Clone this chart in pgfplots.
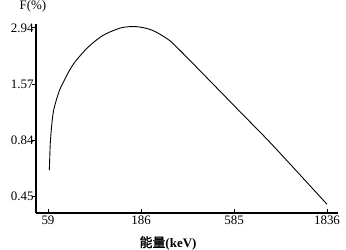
\documentclass[border=0pt]{standalone}
\usepackage{pgfplots}
\pgfplotsset{compat=1.18}
\usepackage{fontspec}
\setmainfont{Liberation Serif}
\newfontfamily\cjk[FakeBold=1.5]{Noto Sans CJK SC}
\begin{document}
\begin{tikzpicture}
\useasboundingbox (0,0) rectangle (346bp,250bp);
\begin{axis}[
  at={(36bp,37bp)}, anchor=south west,
  scale only axis, width=302bp, height=189bp,
  xmode=log, ymode=log,
  xmin=50.9, xmax=2102, ymin=0.372, ymax=3.07,
  axis x line*=bottom, axis y line*=left,
  axis line style={-, line width=1.1pt},
  xtick={59,186,585,1836},
  xticklabels={\textrm{59},\textrm{186},\textrm{585},\textrm{1836}},
  ytick={0.45,0.84,1.57,2.94},
  yticklabels={\textrm{0.45},\textrm{0.84},\textrm{1.57},\textrm{2.94}},
  xminorticks=false, yminorticks=false,
  tick style={black, line width=0.8pt},
  major tick length=4bp,
  tick align=inside,
  ytick style={xshift=-4bp},
  tick label style={font=\fontsize{13}{15}\selectfont},
  xticklabel style={yshift=1bp},
  yticklabel style={xshift=1bp},
  ylabel={F(\%)},
  ylabel style={rotate=-90, at={(rel axis cs:0,1)}, anchor=south, inner sep=0pt, yshift=12bp, xshift=-3bp, font=\fontsize{13}{15}\selectfont},
  xlabel={{\cjk 能量}\textbf{(keV)}},
  xlabel style={at={(rel axis cs:0.5,0)}, anchor=north, inner sep=0pt, yshift=-23bp, xshift=-19bp, font=\fontsize{13}{15}\selectfont},
  clip=false,
]
\addplot[black, line width=0.9pt, smooth, tension=0.5] coordinates {
(60,0.60) (60.7,0.81) (62.1,1.04) (63.5,1.19) (66.5,1.38) (69.7,1.54)
(80,1.94) (95.8,2.35) (116,2.70) (145,2.94) (176,2.98) (214,2.86)
(260,2.58) (291,2.35) (353,1.97) (630,1.15) (931,0.80) (1836,0.41)
};
\end{axis}
\end{tikzpicture}
\end{document}
